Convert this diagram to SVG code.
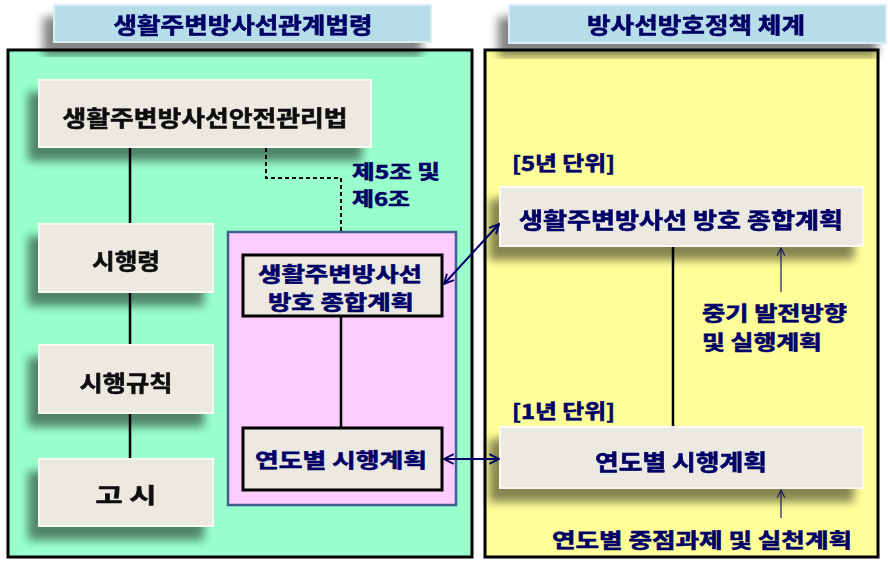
<svg xmlns="http://www.w3.org/2000/svg" width="888" height="561" viewBox="0 0 888 561">
<defs>
<style>
text{font-family:"Noto Sans CJK KR","Noto Sans",sans-serif;font-weight:bold;stroke-width:0.6;}
.nv{fill:#000066;stroke:#000066;}
.bk{fill:#111111;stroke:#111111;}
.t22{font-size:22px;}
.t20{font-size:20px;}
.t19{font-size:19px;}
.bev{fill:#ECE9E0;stroke:#F9F8F4;stroke-width:2;}
.ttl{fill:#B7DEE8;stroke:#D8EFF5;stroke-width:2;}
.inner{fill:#ECE9E0;stroke:#000;stroke-width:3;}
.ln{stroke:#000;stroke-width:2.5;fill:none;}
.dash{stroke:#000;stroke-width:2;stroke-dasharray:4 3;fill:none;}
.dbl{stroke:#000066;stroke-width:2;fill:none;}
.thin{stroke:#1A1A66;stroke-width:1.2;fill:none;}
</style>
<filter id="sh" x="-20%" y="-30%" width="140%" height="170%">
<feGaussianBlur in="SourceAlpha" stdDeviation="5"/>
<feOffset dx="-10" dy="13" result="b"/>
<feFlood flood-color="#000" flood-opacity="0.48"/>
<feComposite in2="b" operator="in"/>
<feMerge><feMergeNode/><feMergeNode in="SourceGraphic"/></feMerge>
</filter>
<marker id="ah" viewBox="0 0 10 10" refX="9" refY="5" markerWidth="6" markerHeight="6" orient="auto-start-reverse" markerUnits="strokeWidth">
<path d="M1,1 L9,5 L1,9" fill="none" stroke="#000066" stroke-width="1.6"/>
</marker>
<marker id="ah2" viewBox="0 0 10 10" refX="9" refY="5" markerWidth="8" markerHeight="8" orient="auto" markerUnits="strokeWidth">
<path d="M1,1 L9,5 L1,9" fill="none" stroke="#1A1A66" stroke-width="1.2"/>
</marker>
</defs>

<g id="panel-left">
<rect x="8" y="50" width="464" height="507" fill="#99FFCC" stroke="#000" stroke-width="3"/>
</g>
<g id="panel-right">
<rect x="485" y="50" width="393" height="507" fill="#FFFF99" stroke="#000" stroke-width="3"/>
</g>

<g id="title-left" filter="url(#sh)">
<rect class="ttl" x="54" y="5" width="377" height="37"/>
<text class="nv t22" x="243" y="33" text-anchor="middle" textLength="259" lengthAdjust="spacingAndGlyphs">생활주변방사선관계법령</text>
</g>
<g id="title-right" filter="url(#sh)">
<rect class="ttl" x="509" y="5" width="377" height="38"/>
<text class="nv t22" x="696" y="33" text-anchor="middle" textLength="218" lengthAdjust="spacingAndGlyphs">방사선방호정책 체계</text>
</g>

<g id="law" filter="url(#sh)">
<rect class="bev" x="39" y="80" width="332" height="67"/>
<text class="bk t22" x="205" y="126" text-anchor="middle" textLength="285" lengthAdjust="spacingAndGlyphs">생활주변방사선안전관리법</text>
</g>
<g id="decree" filter="url(#sh)">
<rect class="bev" x="39" y="224" width="174" height="68"/>
<text class="bk t22" x="126" y="269" text-anchor="middle" textLength="68" lengthAdjust="spacingAndGlyphs">시행령</text>
</g>
<g id="rules" filter="url(#sh)">
<rect class="bev" x="39" y="345" width="174" height="68"/>
<text class="bk t22" x="126" y="391" text-anchor="middle" textLength="93" lengthAdjust="spacingAndGlyphs">시행규칙</text>
</g>
<g id="notice" filter="url(#sh)">
<rect class="bev" x="39" y="459" width="174" height="67"/>
<text class="bk t22" x="126" y="503" text-anchor="middle" textLength="61" lengthAdjust="spacingAndGlyphs">고 시</text>
</g>

<g id="article">
<text class="nv t19" x="352" y="179" textLength="88" lengthAdjust="spacingAndGlyphs">제5조 및</text>
<text class="nv t19" x="352" y="206" textLength="58" lengthAdjust="spacingAndGlyphs">제6조</text>
</g>

<g id="pink-group">
<rect x="228" y="232" width="228" height="273" fill="#FFCCFF" stroke="#3F5F8F" stroke-width="2.5"/>
</g>
<g id="inner-plan">
<rect class="inner" x="243" y="255" width="199" height="61"/>
<text class="nv t20" x="340" y="282" text-anchor="middle" textLength="164" lengthAdjust="spacingAndGlyphs">생활주변방사선</text>
<text class="nv t20" x="341" y="310" text-anchor="middle" textLength="146" lengthAdjust="spacingAndGlyphs">방호 종합계획</text>
</g>
<g id="inner-annual">
<rect class="inner" x="243" y="428" width="199" height="62"/>
<text class="nv t20" x="341" y="468" text-anchor="middle" textLength="172" lengthAdjust="spacingAndGlyphs">연도별 시행계획</text>
</g>

<g id="label-5y">
<text class="nv t20" x="512" y="171" textLength="103" lengthAdjust="spacingAndGlyphs">[5년 단위]</text>
</g>
<g id="plan-right" filter="url(#sh)">
<rect class="bev" x="500" y="187" width="363" height="59"/>
<text class="nv t22" x="681" y="228" text-anchor="middle" textLength="324" lengthAdjust="spacingAndGlyphs">생활주변방사선 방호 종합계획</text>
</g>
<g id="label-mid">
<text class="nv t20" x="702" y="321" textLength="145" lengthAdjust="spacingAndGlyphs">중기 발전방향</text>
<text class="nv t20" x="702" y="350" textLength="120" lengthAdjust="spacingAndGlyphs">및 실행계획</text>
</g>
<g id="label-1y">
<text class="nv t20" x="512" y="419" textLength="103" lengthAdjust="spacingAndGlyphs">[1년 단위]</text>
</g>
<g id="annual-right" filter="url(#sh)">
<rect class="bev" x="500" y="427" width="363" height="61"/>
<text class="nv t22" x="681" y="470" text-anchor="middle" textLength="172" lengthAdjust="spacingAndGlyphs">연도별 시행계획</text>
</g>
<g id="label-annual">
<text class="nv t20" x="552" y="548" textLength="300" lengthAdjust="spacingAndGlyphs">연도별 중점과제 및 실천계획</text>
</g>

<g id="connectors">
<line class="ln" x1="130" y1="148" x2="130" y2="223"/>
<line class="ln" x1="130" y1="293" x2="130" y2="344"/>
<line class="ln" x1="130" y1="414" x2="130" y2="458"/>
<polyline class="dash" points="266,148 266,178 341,178 341,232"/>
<line class="ln" x1="341" y1="317" x2="341" y2="427"/>
<line class="ln" x1="673" y1="247" x2="673" y2="426"/>
<line class="dbl" x1="444" y1="284" x2="499" y2="224" marker-start="url(#ah)" marker-end="url(#ah)"/>
<line class="dbl" x1="444" y1="459" x2="499" y2="459" marker-start="url(#ah)" marker-end="url(#ah)"/>
<line class="thin" x1="781" y1="292" x2="781" y2="248" marker-end="url(#ah2)"/>
<line class="thin" x1="781" y1="518" x2="781" y2="490" marker-end="url(#ah2)"/>
</g>
</svg>
